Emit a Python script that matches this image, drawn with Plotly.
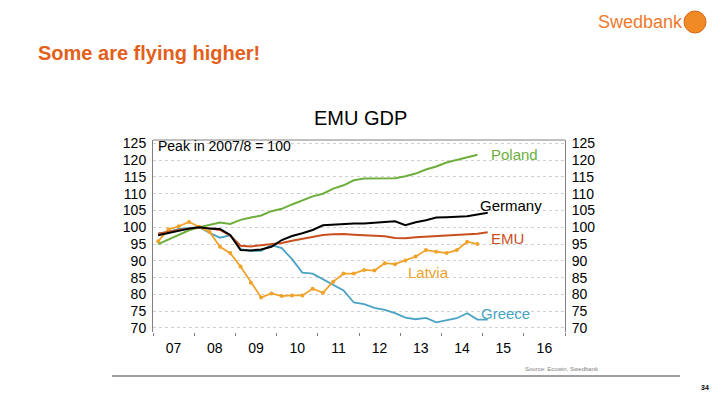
import plotly.graph_objects as go

# ---------------- data ----------------
quarters = [f"{y}Q{q}" for y in range(2007, 2016) for q in range(1, 5)][:33]  # 2007Q1 .. 2015Q1

poland = [95.0, 96.3, 97.6, 99.1, 100.0, 100.6, 101.4, 101.0, 102.2, 102.9, 103.5, 104.8,
          105.5, 106.8, 108.0, 109.2, 110.0, 111.5, 112.5, 114.0, 114.5, 114.6, 114.6, 114.6,
          115.2, 116.0, 117.2, 118.1, 119.3, 120.0, 120.7, 121.6]
germany = [97.6, 98.3, 98.9, 99.6, 100.0, 99.6, 99.5, 97.7, 93.2, 93.1, 93.4, 94.2,
           96.2, 97.4, 98.2, 99.2, 100.6, 100.8, 101.0, 101.1, 101.1, 101.4, 101.6, 101.8,
           100.6, 101.5, 102.1, 102.9, 103.0, 103.1, 103.3, 103.8, 104.3]
emu = [98.1, 98.7, 99.2, 99.6, 100.0, 99.6, 99.2, 97.5, 94.5, 94.3, 94.6, 94.8,
       95.3, 96.0, 96.5, 97.0, 97.7, 97.9, 98.0, 97.8, 97.7, 97.6, 97.3, 96.8,
       96.7, 97.0, 97.2, 97.4, 97.5, 97.6, 97.8, 98.1, 98.5]
latvia = [95.8, 99.4, 100.3, 101.6, 100.1, 98.6, 94.2, 92.3, 88.3, 83.5, 79.1, 80.3,
          79.5, 79.7, 79.7, 81.7, 80.5, 83.8, 86.2, 86.2, 87.3, 87.1, 89.3, 89.0,
          90.1, 91.3, 93.2, 92.7, 92.3, 93.2, 95.7, 95.0]
greece = [98.2, 98.6, 99.5, 99.7, 100.0, 98.3, 96.9, 97.6, 93.5, 93.0, 93.0, 94.7,
          93.8, 90.5, 86.5, 86.2, 84.5, 83.0, 81.2, 77.6, 77.1, 76.0, 75.4, 74.4,
          73.1, 72.6, 73.0, 71.7, 72.2, 72.9, 74.4, 72.5, 72.5]

year_labels = ["07", "08", "09", "10", "11", "12", "13", "14", "15", "16"]
y_ticks = [70, 75, 80, 85, 90, 95, 100, 105, 110, 115, 120, 125]


def qpos(q):
    y, n = q.split("Q")
    return int(y) + (int(n) - 0.5) / 4


def xs(series):
    return [qpos(q) for q in quarters[:len(series)]]


# ---------------- geometry helpers ----------------
W, H = 720, 405
L, R, T, B = 153, 565, 140, 332


def px(x):
    return (x - L) / (R - L)


def py(y):
    return (B - y) / (B - T)


C_POL = "#6DAE3C"
C_GER = "#000000"
C_EMU = "#C9501E"
C_LAT = "#F0A229"
C_GRE = "#4AA3C4"

fig = go.Figure()
fig.add_trace(go.Scatter(x=xs(greece), y=greece, mode="lines", line=dict(color=C_GRE, width=1.8),
                         name="Greece"))
fig.add_trace(go.Scatter(x=xs(latvia), y=latvia, mode="lines+markers", line=dict(color=C_LAT, width=1.8),
                         marker=dict(size=4, color=C_LAT), name="Latvia"))
fig.add_trace(go.Scatter(x=xs(poland), y=poland, mode="lines", line=dict(color=C_POL, width=2),
                         name="Poland"))
fig.add_trace(go.Scatter(x=xs(emu), y=emu, mode="lines", line=dict(color=C_EMU, width=2),
                         name="EMU"))
fig.add_trace(go.Scatter(x=xs(germany), y=germany, mode="lines", line=dict(color=C_GER, width=2),
                         name="Germany"))
# invisible trace to activate right axis
fig.add_trace(go.Scatter(x=[2007], y=[100], yaxis="y2", mode="markers", marker=dict(opacity=0),
                         showlegend=False, hoverinfo="skip"))

axis_font = dict(family="Liberation Sans, Arial", size=14, color="#000000")
yrange = [68.8, 126.0]

fig.update_layout(
    width=W, height=H, autosize=False,
    margin=dict(l=L, r=W - R, t=T, b=H - B),
    paper_bgcolor="white", plot_bgcolor="white",
    showlegend=False,
    xaxis=dict(range=[2007, 2017], tickvals=[y + 0.5 for y in range(2007, 2017)], ticktext=year_labels,
               ticks="", showgrid=False, zeroline=False, showline=False,
               tickfont=axis_font, ticklabelstandoff=6,
               minor=dict(tickvals=list(range(2007, 2018)), ticks="outside", ticklen=3,
                          tickcolor="#808080", tickwidth=1, showgrid=False)),
    yaxis=dict(range=yrange, tickvals=y_ticks, tickfont=axis_font, showgrid=True,
               gridcolor="#D0D0D0", griddash="dot", gridwidth=1, zeroline=False,
               showline=True, linecolor="#808080", linewidth=1, ticks="", ticklabelstandoff=3),
    yaxis2=dict(range=yrange, tickvals=y_ticks, tickfont=axis_font, overlaying="y", side="right",
                showgrid=False, zeroline=False, showline=True, linecolor="#808080", linewidth=1,
                ticks="", ticklabelstandoff=3),
)

# top border of the chart frame
fig.add_shape(type="line", xref="paper", yref="paper", x0=0, x1=1, y0=1, y1=1,
              line=dict(color="#808080", width=1))

ann_font = "Liberation Sans, Arial"


def label(text, x, y, color, size=14, xanchor="center", bold=False):
    fig.add_annotation(text=f"<b>{text}</b>" if bold else text, xref="paper", yref="paper",
                       x=px(x), y=py(y), showarrow=False, xanchor=xanchor, yanchor="middle",
                       font=dict(family=ann_font, size=size, color=color))


label("Poland", 514, 154, C_POL, size=15)
label("Germany", 511, 205, C_GER, size=15)
label("EMU", 507, 238, C_EMU, size=15)
label("Latvia", 428, 272, C_LAT, size=15)
label("Greece", 505, 313, C_GRE, size=15)
label("Peak in 2007/8 = 100", 156, 146, "#000000", size=14, xanchor="left")
label("EMU GDP", 360, 118, "#000000", size=20)

# slide elements
label("Some are flying higher!", 36, 53, "#E2601A", size=20, xanchor="left", bold=True)
label("Swedbank", 596, 22, "#EE7A2A", size=18, xanchor="left", bold=False)
fig.add_shape(type="circle", xref="paper", yref="paper",
              x0=px(684), x1=px(706), y0=py(33), y1=py(11),
              fillcolor="#F08A24", line=dict(color="#D8661C", width=1))
label("Source: Ecowin, Swedbank", 562, 369, "#808080", size=6)
fig.add_shape(type="line", xref="paper", yref="paper", x0=px(112), x1=px(680), y0=py(376), y1=py(376),
              line=dict(color="#7F7F7F", width=1.5))
label("34", 705, 387, "#000000", size=7, bold=True)

fig.write_html("out.html", config={"displayModeBar": False},
               post_script="document.body.style.margin='0';")
